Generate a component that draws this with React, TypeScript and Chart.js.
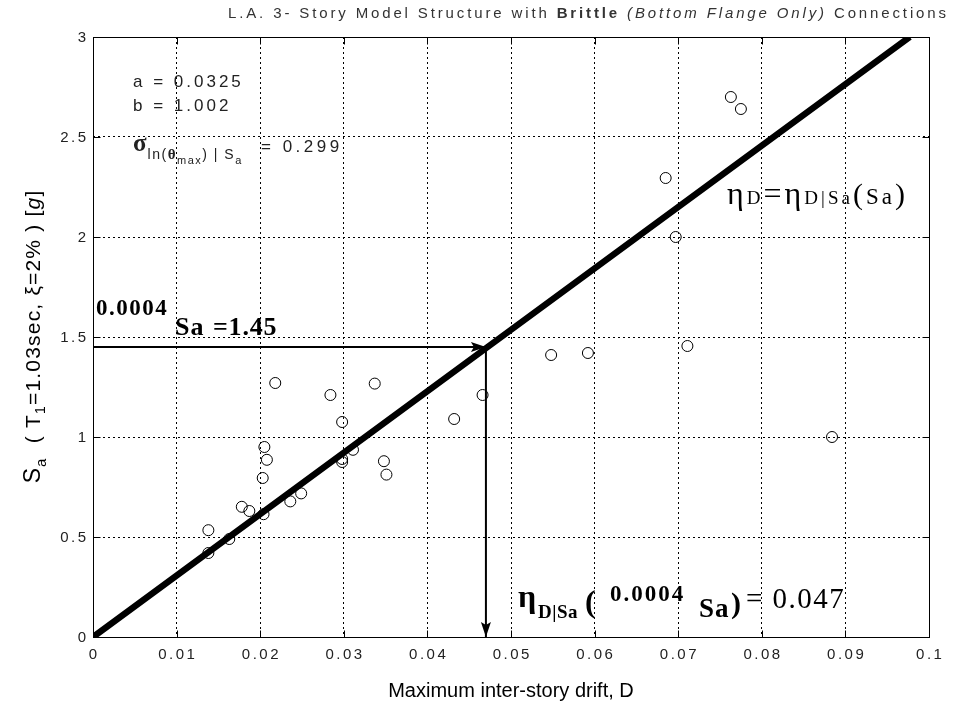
import React, { useEffect, useRef } from "react";
import { Chart, registerables } from "chart.js";

Chart.register(...registerables);

// ---- data ----
const driftD = [
  0.0138, 0.0138, 0.0163, 0.0178, 0.0187, 0.0204, 0.0203, 0.0208, 0.0205, 0.0218,
  0.0236, 0.0249, 0.0284, 0.0298, 0.0298, 0.0298, 0.0311, 0.0337, 0.0348, 0.0351,
  0.0432, 0.0466, 0.0548, 0.0592, 0.0685, 0.0697, 0.0711, 0.0763, 0.0775, 0.0884,
];
const saValues = [
  0.42, 0.534, 0.49, 0.651, 0.63, 0.614, 0.795, 0.886, 0.95, 1.27,
  0.678, 0.718, 1.21, 1.075, 0.89, 0.875, 0.936, 1.267, 0.879, 0.812,
  1.09, 1.21, 1.41, 1.42, 2.295, 2.0, 1.455, 2.7, 2.64, 1.0,
];
const fitDrift = [0, 0.0472, 0.0977];
const fitSa = [0, 1.45, 3.0];
const medianSa = 1.45;
const medianDrift = 0.047;
const xTicks = [0, 0.01, 0.02, 0.03, 0.04, 0.05, 0.06, 0.07, 0.08, 0.09, 0.1];
const xTickLabels = ["0", "0.01", "0.02", "0.03", "0.04", "0.05", "0.06", "0.07", "0.08", "0.09", "0.1"];
const yTicks = [0, 0.5, 1, 1.5, 2, 2.5, 3];
const yTickLabels = ["0", "0.5", "1", "1.5", "2", "2.5", "3"];

const SANS = "Arial, 'Liberation Sans', Helvetica, sans-serif";
const SERIF = "'Times New Roman', 'Liberation Serif', serif";

type Run = { text: string; font: string; dy?: number; ls?: number };

function runWidth(ctx: CanvasRenderingContext2D, r: Run) {
  ctx.font = r.font;
  const ls = r.ls || 0;
  let w = 0;
  for (const ch of r.text) w += ctx.measureText(ch).width + ls;
  return w;
}

function drawRuns(
  ctx: CanvasRenderingContext2D,
  runs: Run[],
  x: number,
  y: number,
  align: "left" | "center" | "right" = "left"
) {
  const widths = runs.map((r) => runWidth(ctx, r));
  const total = widths.reduce((a, b) => a + b, 0) - (runs.length ? runs[runs.length - 1].ls || 0 : 0);
  let cx = align === "center" ? x - total / 2 : align === "right" ? x - total : x;
  ctx.textAlign = "left";
  ctx.textBaseline = "alphabetic";
  runs.forEach((r) => {
    ctx.font = r.font;
    const ls = r.ls || 0;
    for (const ch of r.text) {
      ctx.fillText(ch, cx, y + (r.dy || 0));
      cx += ctx.measureText(ch).width + ls;
    }
  });
}

function fitRuns(ctx: CanvasRenderingContext2D, runs: Run[], x: number, y: number, target: number) {
  let natural = 0;
  let chars = 0;
  runs.forEach((r) => {
    natural += runWidth(ctx, { ...r, ls: 0 });
    chars += [...r.text].length;
  });
  const ls = Math.max(0, (target - natural) / Math.max(1, chars - 1));
  drawRuns(ctx, runs.map((r) => ({ ...r, ls })), x, y, "left");
}

const overlay = {
  id: "overlay",
  afterDraw(chart: any) {
    const { ctx, chartArea: ca } = chart;
    const xs = chart.scales.x;
    const ys = chart.scales.y;
    ctx.save();
    ctx.setLineDash([]);
    ctx.strokeStyle = "#000";
    ctx.lineWidth = 1;
    const L = Math.round(ca.left) + 0.5;
    const R = Math.round(ca.right) + 0.5;
    const T = Math.round(ca.top) + 0.5;
    const B = Math.round(ca.bottom) + 0.5;
    ctx.strokeRect(L, T, R - L, B - T);
    // inner tick marks
    ctx.beginPath();
    xTicks.forEach((v) => {
      const px = Math.round(xs.getPixelForValue(v)) + 0.5;
      ctx.moveTo(px, B);
      ctx.lineTo(px, B - 7);
      ctx.moveTo(px, T);
      ctx.lineTo(px, T + 7);
    });
    yTicks.forEach((v) => {
      const py = Math.round(ys.getPixelForValue(v)) + 0.5;
      ctx.moveTo(L, py);
      ctx.lineTo(L + 7, py);
      ctx.moveTo(R, py);
      ctx.lineTo(R - 7, py);
    });
    ctx.stroke();

    // tick labels
    ctx.fillStyle = "#222";
    xTicks.forEach((v, i) => {
      const px = xs.getPixelForValue(v);
      drawRuns(ctx, [{ text: xTickLabels[i], font: `15px ${SANS}`, ls: 2.5 }], px, 659, "center");
    });
    yTicks.forEach((v, i) => {
      const py = ys.getPixelForValue(v);
      drawRuns(ctx, [{ text: yTickLabels[i], font: `15px ${SANS}`, ls: 2.5 }], 86, py + 5, "right");
    });

    // arrow heads
    ctx.fillStyle = "#000";
    const ax = xs.getPixelForValue(medianDrift);
    const ay = ys.getPixelForValue(medianSa);
    ctx.beginPath();
    ctx.moveTo(ax, ay);
    ctx.lineTo(ax - 15, ay - 5);
    ctx.lineTo(ax - 12, ay);
    ctx.lineTo(ax - 15, ay + 5);
    ctx.closePath();
    ctx.fill();
    const by = ys.getPixelForValue(0);
    ctx.beginPath();
    ctx.moveTo(ax, by);
    ctx.lineTo(ax - 5, by - 15);
    ctx.lineTo(ax, by - 12);
    ctx.lineTo(ax + 5, by - 15);
    ctx.closePath();
    ctx.fill();

    // title
    ctx.fillStyle = "#333";
    fitRuns(
      ctx,
      [
        { text: "L.A. 3- Story Model Structure with ", font: `15px ${SANS}` },
        { text: "Brittle", font: `bold 15px ${SANS}` },
        { text: " ", font: `15px ${SANS}` },
        { text: "(Bottom Flange Only)", font: `italic 15px ${SANS}` },
        { text: " Connections", font: `15px ${SANS}` },
      ],
      228,
      18,
      718
    );

    // x axis title
    ctx.fillStyle = "#000";
    drawRuns(ctx, [{ text: "Maximum inter-story drift, D", font: `20px ${SANS}` }], (ca.left + ca.right) / 2, 697, "center");

    // y axis title (rotated)
    ctx.save();
    ctx.translate(40, (ca.top + ca.bottom) / 2);
    ctx.rotate(-Math.PI / 2);
    drawRuns(
      ctx,
      [
        { text: "S", font: `23px ${SANS}`, ls: 1 },
        { text: "a", font: `15px ${SANS}`, dy: 6, ls: 1.2 },
        { text: "  ( T", font: `21px ${SANS}`, ls: 1.2 },
        { text: "1", font: `14px ${SANS}`, dy: 5, ls: 1.2 },
        { text: "=1.03sec, ξ=2% ) [", font: `21px ${SANS}`, ls: 1.2 },
        { text: "g", font: `italic 21px ${SANS}`, ls: 1.2 },
        { text: "]", font: `21px ${SANS}` },
      ],
      0,
      0,
      "center"
    );
    ctx.restore();

    // a, b, sigma annotations
    ctx.fillStyle = "#222";
    drawRuns(ctx, [{ text: "a = 0.0325", font: `17px ${SANS}`, ls: 3 }], 133, 87);
    drawRuns(ctx, [{ text: "b = 1.002", font: `17px ${SANS}`, ls: 3 }], 133, 111);
    drawRuns(
      ctx,
      [
        { text: "σ", font: `bold 25px ${SERIF}`, ls: 1 },
        { text: "ln(", font: `14px ${SANS}`, dy: 8, ls: 1.5 },
        { text: "θ", font: `bold 15px ${SERIF}`, dy: 8, ls: 1.5 },
        { text: "max", font: `11px ${SANS}`, dy: 13, ls: 1.5 },
        { text: ") | S", font: `14px ${SANS}`, dy: 8, ls: 1.5 },
        { text: "a", font: `11px ${SANS}`, dy: 13 },
      ],
      133,
      151
    );
    drawRuns(ctx, [{ text: "= 0.299", font: `17px ${SANS}`, ls: 3.5 }], 261, 152);

    // eta_D = eta_D|Sa(Sa)
    ctx.fillStyle = "#000";
    fitRuns(
      ctx,
      [
        { text: "η", font: `32px ${SERIF}` },
        { text: "D", font: `19px ${SERIF}` },
        { text: "=", font: `32px ${SERIF}` },
        { text: "η", font: `32px ${SERIF}` },
        { text: "D|Sa", font: `19px ${SERIF}` },
        { text: "(", font: `30px ${SERIF}` },
        { text: "Sa", font: `23px ${SERIF}` },
        { text: ")", font: `30px ${SERIF}` },
      ],
      727,
      204,
      178
    );

    // 0.0004 Sa = 1.45
    drawRuns(ctx, [{ text: "0.0004", font: `bold 23px ${SERIF}`, ls: 1.5 }], 96, 315);
    drawRuns(ctx, [{ text: "Sa", font: `bold 26px ${SERIF}`, ls: 1 }], 175, 335);
    drawRuns(ctx, [{ text: "=1.45", font: `bold 26px ${SERIF}`, ls: 0.8 }], 213, 335);

    // eta_D|Sa( 0.0004 Sa) = 0.047
    drawRuns(ctx, [{ text: "η", font: `bold 32px ${SERIF}` }], 518, 607);
    drawRuns(ctx, [{ text: "D|Sa", font: `bold 19px ${SERIF}`, ls: 0.5 }], 538, 618);
    drawRuns(ctx, [{ text: "(", font: `bold 32px ${SERIF}` }], 585, 612);
    drawRuns(ctx, [{ text: "0.0004", font: `bold 23px ${SERIF}`, ls: 2 }], 610, 601);
    drawRuns(ctx, [{ text: "Sa", font: `bold 27px ${SERIF}`, ls: 1 }], 699, 617);
    drawRuns(ctx, [{ text: ")", font: `bold 30px ${SERIF}` }], 731, 613);
    drawRuns(ctx, [{ text: "= 0.047", font: `29px ${SERIF}`, ls: 1.5 }], 746, 608);

    ctx.restore();
  },
};

export default function App() {
  const ref = useRef<HTMLCanvasElement>(null);
  useEffect(() => {
    const canvas = ref.current;
    if (!canvas) return;
    const points = driftD.map((d, i) => ({ x: d, y: saValues[i] }));
    const fit = fitDrift.map((d, i) => ({ x: d, y: fitSa[i] }));
    const hArrow = [
      { x: 0, y: medianSa },
      { x: medianDrift, y: medianSa },
    ];
    const vArrow = [
      { x: medianDrift, y: medianSa },
      { x: medianDrift, y: 0 },
    ];
    const chart = new Chart(canvas, {
      type: "scatter",
      data: {
        datasets: [
          {
            label: "data",
            data: points,
            pointStyle: "circle",
            pointRadius: 5.5,
            pointBorderWidth: 1,
            borderColor: "#000",
            backgroundColor: "rgba(0,0,0,0)",
            showLine: false,
            order: 3,
          },
          {
            label: "hArrow",
            data: hArrow,
            showLine: true,
            borderColor: "#000",
            borderWidth: 2,
            pointRadius: 0,
            order: 2,
          },
          {
            label: "vArrow",
            data: vArrow,
            showLine: true,
            borderColor: "#000",
            borderWidth: 2,
            pointRadius: 0,
            order: 2,
          },
          {
            label: "fit",
            data: fit,
            showLine: true,
            borderColor: "#000",
            borderWidth: 6.5,
            pointRadius: 0,
            order: 1,
          },
        ],
      },
      options: {
        animation: false,
        responsive: false,
        devicePixelRatio: 1,
        layout: { padding: { left: 93, top: 37, right: 24, bottom: 78 } },
        plugins: { legend: { display: false }, tooltip: { enabled: false } },
        scales: {
          x: {
            type: "linear",
            min: 0,
            max: 0.1,
            afterBuildTicks: (s: any) => {
              s.ticks = xTicks.map((v) => ({ value: v }));
            },
            afterFit: (s: any) => {
              s.height = 0;
            },
            ticks: { display: false },
            grid: { color: "#000", lineWidth: 1, drawTicks: false },
            border: { display: false, dash: [2, 3] },
          },
          y: {
            type: "linear",
            min: 0,
            max: 3,
            afterBuildTicks: (s: any) => {
              s.ticks = yTicks.map((v) => ({ value: v }));
            },
            afterFit: (s: any) => {
              s.width = 0;
            },
            ticks: { display: false },
            grid: { color: "#000", lineWidth: 1, drawTicks: false },
            border: { display: false, dash: [2, 3] },
          },
        },
      },
      plugins: [overlay],
    } as any);
    return () => chart.destroy();
  }, []);
  return (
    <canvas
      ref={ref}
      width={953}
      height={715}
      style={{ position: "fixed", left: 0, top: 0, width: "953px", height: "715px", background: "#fff" }}
    />
  );
}
